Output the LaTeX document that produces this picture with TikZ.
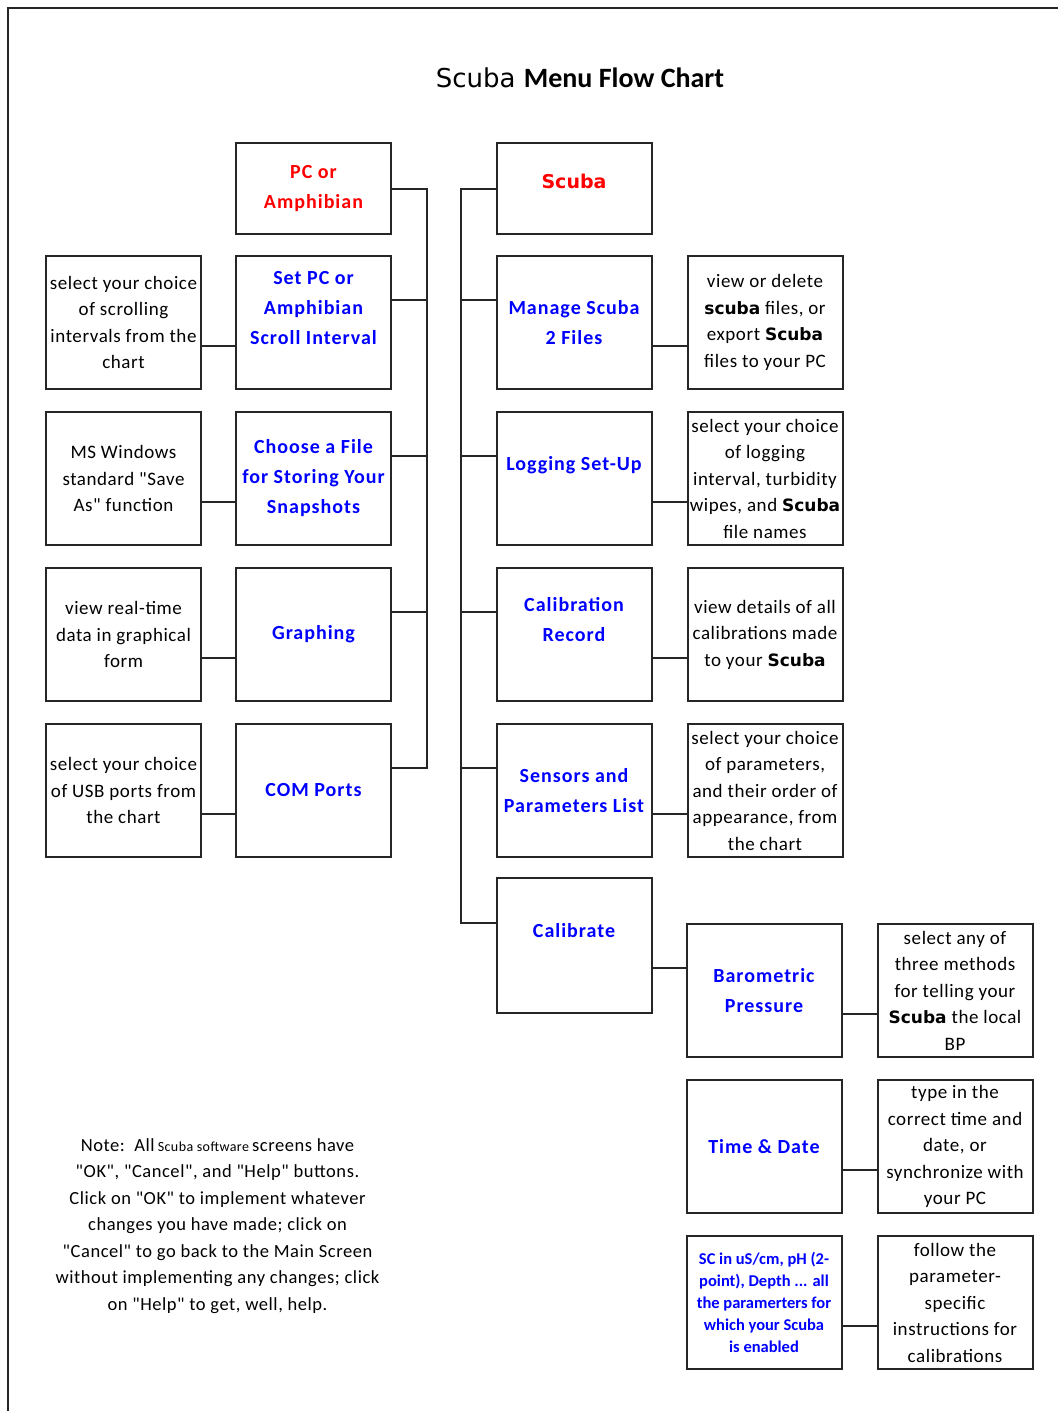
\documentclass[tikz,border=0pt]{standalone}
\usepackage{fontspec}
\setmainfont{Carlito}
\newfontfamily\descfont[LetterSpace=3]{Carlito}
\newfontfamily\menufont[LetterSpace=5]{Carlito}
\newfontfamily\scubafont{DejaVu Sans}
\usepackage{tikz}
\usetikzlibrary{positioning}

\newcommand{\scb}[1]{{\scubafont\bfseries\fontsize{17}{26.5}\selectfont #1}}

\begin{document}
\begin{tikzpicture}[x=1pt,y=-1pt,
	box/.style={draw=black!85,line width=2pt,rectangle,inner sep=0pt,minimum width=155pt,minimum height=133pt,align=center},
	menu/.style={box,text=blue,font=\menufont\bfseries\fontsize{20}{30}\selectfont},
	topmenu/.style={menu,minimum height=91pt,text=red},
	info/.style={box,font=\descfont\fontsize{19}{26.5}\selectfont},
	link/.style={draw=black!85,line width=2pt}
	]
	\useasboundingbox (0,0) rectangle (1058,1411);
	\draw[black!85,line width=2pt] (1058,8) -- (8,8) -- (8,1411);
	
	\node (title) at (580,78) {\scubafont\fontsize{26}{30}\selectfont Scuba\ {\setmainfont{Carlito}\bfseries\fontsize{28}{30}\selectfont Menu Flow Chart}};
	
	% PC or Amphibian side
	\node[topmenu] (pcamph) at (313.5,188.5) {PC or\\Amphibian};
	\node[menu] (setpc) at (313.5,322.5) {Set PC or\\Amphibian\\Scroll Interval\\~};
	\node[info,left=33pt of setpc] (scrolldesc) {select your choice\\of scrolling\\intervals from the\\chart};
	\node[menu] (choose) at (313.5,478.5) {Choose a File\\for Storing Your\\Snapshots};
	\node[info,left=33pt of choose] (savedesc) {MS Windows\\standard "Save\\As" function};
	\node[menu] (graphing) at (313.5,634.5) {Graphing};
	\node[info,left=33pt of graphing] (graphdesc) {view real-time\\data in graphical\\form};
	\node[menu] (comports) at (313.5,790.5) {COM Ports};
	\node[info,left=33pt of comports] (usbdesc) {select your choice\\of USB ports from\\the chart};
	
	% Scuba side
	\node[topmenu] (scuba) at (574,188.5) {\scubafont\bfseries\fontsize{19}{30}\selectfont Scuba\\[-15pt]~};
	\node[menu] (manage) at (574,322.5) {Manage Scuba\\2 Files};
	\node[info,right=34pt of manage] (filesdesc) {view or delete\\\scb{scuba} files, or\\export \scb{Scuba}\\files to your PC};
	\node[menu] (logging) at (574,478.5) {Logging Set-Up\\~};
	\node[info,right=34pt of logging] (logdesc) {select your choice\\of logging\\interval, turbidity\\wipes, and \scb{Scuba}\\file names};
	\node[menu] (calrecord) at (574,634.5) {Calibration\\Record\\~};
	\node[info,right=34pt of calrecord] (recdesc) {view details of all\\calibrations made\\to your \scb{Scuba}};
	\node[menu] (sensors) at (574,790.5) {Sensors and\\Parameters List};
	\node[info,right=34pt of sensors] (paramdesc) {select your choice\\of parameters,\\and their order of\\appearance, from\\the chart};
	\node[menu,minimum height=135pt] (calibrate) at (574,945.5) {Calibrate\\~};
	\node[menu] (baro) at (764,990.5) {Barometric\\Pressure};
	\node[info,right=34pt of baro] (barodesc) {select any of\\three methods\\for telling your\\\scb{Scuba} the local\\BP};
	\node[menu] (timedate) at (764,1146.5) {Time \& Date};
	\node[info,right=34pt of timedate] (timedesc) {type in the\\correct time and\\date, or\\synchronize with\\your PC};
	\node[menu,font=\bfseries\fontsize{16.5}{22}\selectfont] (params) at (764,1302.5) {SC in uS/cm, pH (2-\\point), Depth ... all\\the paramerters for\\which your Scuba\\is enabled};
	\node[info,right=34pt of params] (caldesc) {follow the\\parameter-\\specific\\instructions for\\calibrations};
	
	\node[align=center,font=\descfont\fontsize{18.5}{26.5}\selectfont] (note) at (217.5,1226) {Note:\ \ All\,{\fontsize{14}{26.5}\selectfont Scuba software}\,screens have\\"OK", "Cancel", and "Help" buttons.\\Click on "OK" to implement whatever\\changes you have made; click on\\"Cancel" to go back to the Main Screen\\without implementing any changes; click\\on "Help" to get, well, help.};
	
	% connectors
	\coordinate (lbus) at (426.5,0);
	\coordinate (rbus) at (461,0);
	\draw[link] (pcamph.east) -- (pcamph.east -| lbus) -- ([yshift=22.5pt]comports.east -| lbus) -- ([yshift=22.5pt]comports.east);
	\foreach \m in {setpc,choose,graphing}
		\draw[link] ([yshift=22.5pt]\m.east) -- ([yshift=22.5pt]\m.east -| lbus);
	\foreach \m/\d in {setpc/scrolldesc,choose/savedesc,graphing/graphdesc,comports/usbdesc}
		\draw[link] ([yshift=-23pt]\m.west) -- ([yshift=-23pt]\d.east);
	
	\draw[link] (scuba.west) -- (scuba.west -| rbus) -- ([yshift=22.5pt]calibrate.west -| rbus) -- ([yshift=22.5pt]calibrate.west);
	\foreach \m in {manage,logging,calrecord,sensors}
		\draw[link] ([yshift=22.5pt]\m.west) -- ([yshift=22.5pt]\m.west -| rbus);
	\foreach \m/\d in {manage/filesdesc,logging/logdesc,calrecord/recdesc,sensors/paramdesc,baro/barodesc,timedate/timedesc,params/caldesc}
		\draw[link] ([yshift=-23pt]\m.east) -- ([yshift=-23pt]\d.west);
	\draw[link] ([yshift=-22.5pt]calibrate.east) -- ([yshift=22.5pt]baro.west);
\end{tikzpicture}
\end{document}
